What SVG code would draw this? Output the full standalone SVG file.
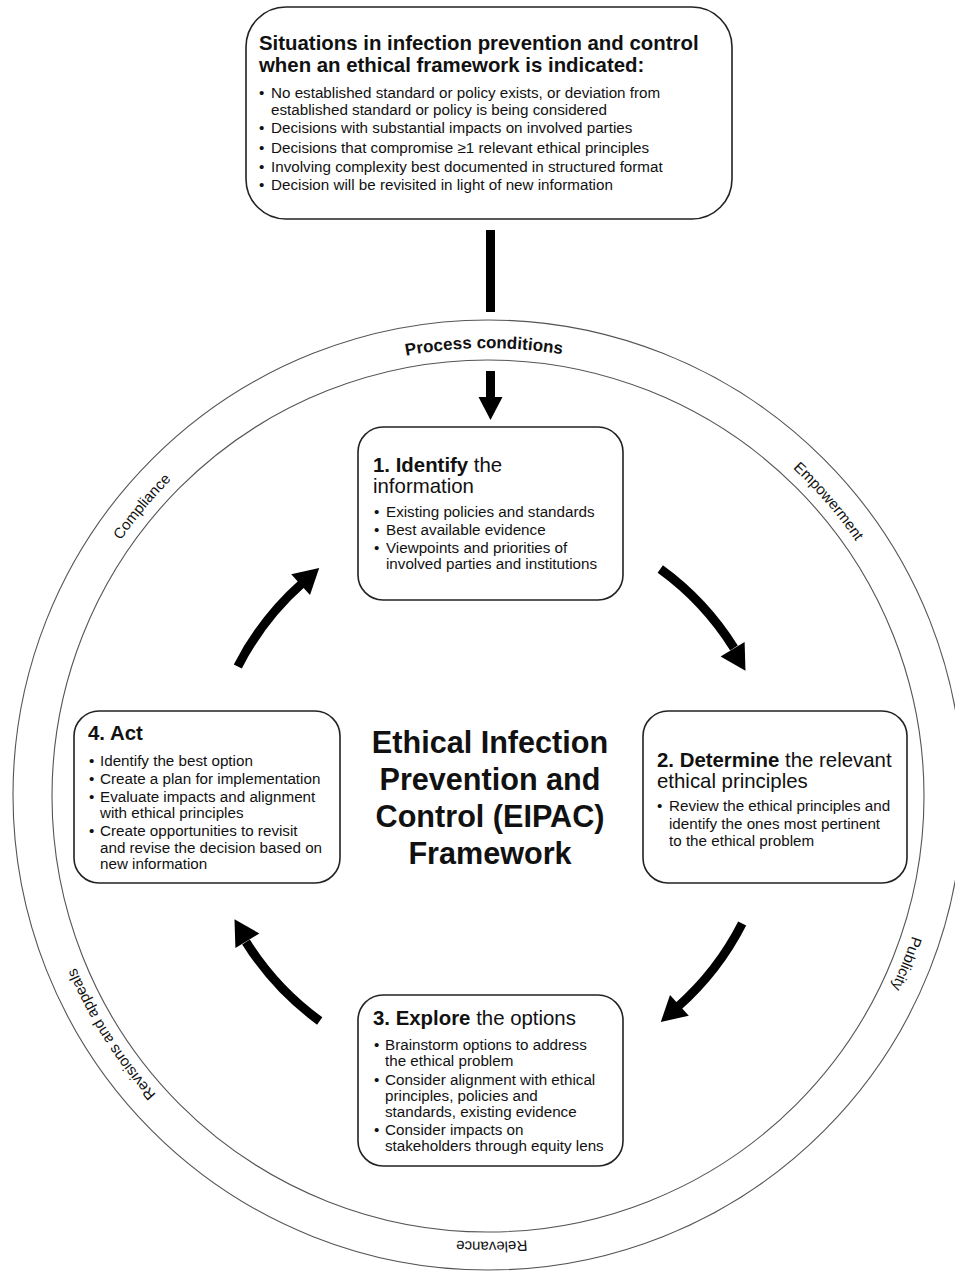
<svg xmlns="http://www.w3.org/2000/svg" width="955" height="1272" viewBox="0 0 955 1272">
<style>
  text { font-family: "Liberation Sans", Arial, sans-serif; fill: #111; }
  .box { fill: #fff; stroke: #222; stroke-width: 1.6; }
  .ring { fill: none; stroke: #555; stroke-width: 1.1; }
  .ttl { font-size: 20.4px; }
  .b { font-weight: bold; }
  .li { font-size: 15.2px; }
  .lbl { font-size: 15px; }
  .center { font-size: 30.6px; font-weight: bold; text-anchor: middle; }
  .shaft { fill: none; stroke: #000; stroke-width: 9; }
  .head { fill: #000; }
</style>
<defs>
  <path id="ringpath" d="M 41 795 A 447 447 0 0 1 935 795 A 447 447 0 0 1 41 795"/>
  <g id="arrowA">
    <path class="shaft" d="M 660.3 569 A 283 283 0 0 1 734 648"/>
    <polygon class="head" points="744.6,642.1 720.6,656.5 745.5,670.7"/>
  </g>
  <g id="arrowB">
    <path class="shaft" d="M 742.2 923.5 A 283 283 0 0 1 677.5 1007"/>
    <polygon class="head" points="688.8,1015.7 670.0,994.9 660.8,1022.0"/>
  </g>
</defs>
<rect width="955" height="1272" fill="#fff"/>

<g id="rings">
  <circle class="ring" cx="488" cy="795" r="475"/>
  <circle class="ring" cx="488" cy="796" r="436"/>
  <text class="lbl b" style="font-size:17px" text-anchor="middle"><textPath href="#ringpath" startOffset="24.86%">Process conditions</textPath></text>
  <text class="lbl" text-anchor="middle"><textPath href="#ringpath" startOffset="11.06%">Compliance</textPath></text>
  <text class="lbl" text-anchor="middle"><textPath href="#ringpath" startOffset="38.67%">Empowerment</textPath></text>
  <text class="lbl" text-anchor="middle"><textPath href="#ringpath" startOffset="56.1%">Publicity</textPath></text>
  <text class="lbl" text-anchor="middle"><textPath href="#ringpath" startOffset="74.87%">Relevance</textPath></text>
  <text class="lbl" text-anchor="middle"><textPath href="#ringpath" startOffset="91.0%">Revisions and appeals</textPath></text>
</g>

<g id="connectors">
  <rect x="486" y="230" width="9" height="82" fill="#000"/>
  <rect x="486" y="371" width="9" height="28" fill="#000"/>
  <polygon class="head" points="478.5,397 502.5,397 490.5,420"/>
  <use href="#arrowA"/>
  <use href="#arrowB"/>
  <use href="#arrowA" transform="rotate(180 490 795)"/>
  <use href="#arrowB" transform="rotate(180 490 795)"/>
</g>

<g id="situations">
  <rect class="box" x="246" y="7" width="486" height="212" rx="40"/>
  <text class="ttl b" x="259" y="50">Situations in infection prevention and control</text>
  <text class="ttl b" x="259" y="72">when an ethical framework is indicated:</text>
  <g class="li">
    <text x="259" y="98">•</text><text x="271" y="98">No established standard or policy exists, or deviation from</text>
    <text x="271" y="115">established standard or policy is being considered</text>
    <text x="259" y="133">•</text><text x="271" y="133">Decisions with substantial impacts on involved parties</text>
    <text x="259" y="153">•</text><text x="271" y="153">Decisions that compromise ≥1 relevant ethical principles</text>
    <text x="259" y="172">•</text><text x="271" y="172">Involving complexity best documented in structured format</text>
    <text x="259" y="190">•</text><text x="271" y="190">Decision will be revisited in light of new information</text>
  </g>
</g>

<g id="step1">
  <rect class="box" x="358" y="427" width="265" height="173" rx="25"/>
  <text class="ttl" x="373" y="472"><tspan class="b">1. Identify</tspan> the</text>
  <text class="ttl" x="373" y="493">information</text>
  <g class="li">
    <text x="374" y="517">•</text><text x="386" y="517">Existing policies and standards</text>
    <text x="374" y="535">•</text><text x="386" y="535">Best available evidence</text>
    <text x="374" y="553">•</text><text x="386" y="553">Viewpoints and priorities of</text>
    <text x="386" y="569">involved parties and institutions</text>
  </g>
</g>

<g id="step2">
  <rect class="box" x="643" y="711" width="264" height="172" rx="25"/>
  <text class="ttl" x="657" y="767"><tspan class="b">2. Determine</tspan> the relevant</text>
  <text class="ttl" x="657" y="788">ethical principles</text>
  <g class="li">
    <text x="657" y="811">•</text><text x="669" y="811">Review the ethical principles and</text>
    <text x="669" y="829">identify the ones most pertinent</text>
    <text x="669" y="846">to the ethical problem</text>
  </g>
</g>

<g id="step3">
  <rect class="box" x="358" y="995" width="265" height="171" rx="25"/>
  <text class="ttl" x="373" y="1025"><tspan class="b">3. Explore</tspan> the options</text>
  <g class="li">
    <text x="374" y="1050">•</text><text x="385" y="1050">Brainstorm options to address</text>
    <text x="385" y="1066">the ethical problem</text>
    <text x="374" y="1085">•</text><text x="385" y="1085">Consider alignment with ethical</text>
    <text x="385" y="1101">principles, policies and</text>
    <text x="385" y="1117">standards, existing evidence</text>
    <text x="374" y="1135">•</text><text x="385" y="1135">Consider impacts on</text>
    <text x="385" y="1151">stakeholders through equity lens</text>
  </g>
</g>

<g id="step4">
  <rect class="box" x="74" y="711" width="266" height="172" rx="25"/>
  <text class="ttl b" x="88" y="740">4. Act</text>
  <g class="li">
    <text x="89" y="766">•</text><text x="100" y="766">Identify the best option</text>
    <text x="89" y="784">•</text><text x="100" y="784">Create a plan for implementation</text>
    <text x="89" y="802">•</text><text x="100" y="802">Evaluate impacts and alignment</text>
    <text x="100" y="818">with ethical principles</text>
    <text x="89" y="836">•</text><text x="100" y="836">Create opportunities to revisit</text>
    <text x="100" y="853">and revise the decision based on</text>
    <text x="100" y="869">new information</text>
  </g>
</g>

<g id="title">
  <text class="center" x="490" y="753">Ethical Infection</text>
  <text class="center" x="490" y="790">Prevention and</text>
  <text class="center" x="490" y="827">Control (EIPAC)</text>
  <text class="center" x="490" y="864">Framework</text>
</g>
</svg>
